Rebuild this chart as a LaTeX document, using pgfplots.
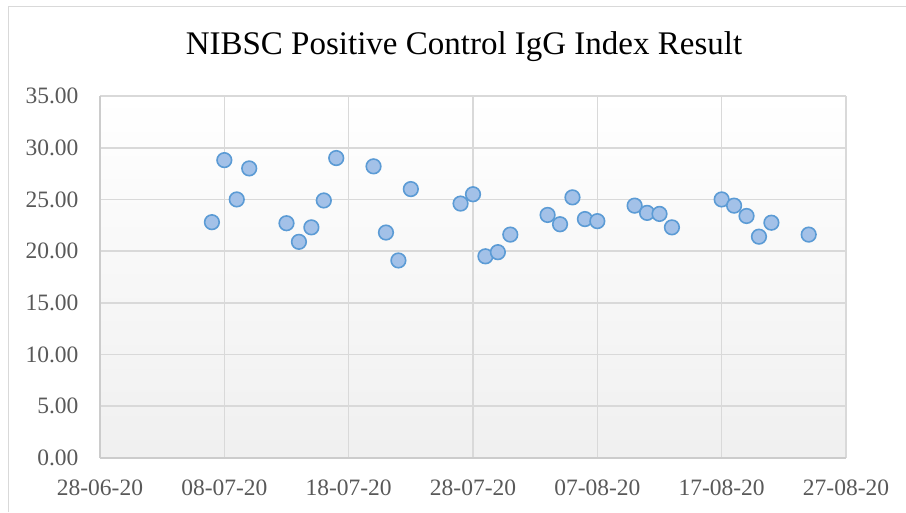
\documentclass[border=0pt]{standalone}
\usepackage{pgfplots}
\pgfplotsset{compat=1.18}
\usepackage{fontspec}
\setmainfont{Liberation Serif}
\definecolor{tickgray}{HTML}{595959}
\definecolor{gridgray}{HTML}{D9D9D9}
\definecolor{markedge}{HTML}{5B9BD5}
\definecolor{markfill}{HTML}{A3C1E8}
\begin{document}
\begin{tikzpicture}[x=1pt,y=1pt]
\useasboundingbox (0,0) rectangle (906,512);
\draw[gridgray,line width=1.5pt] (8.5,0) -- (8.5,505.5) -- (906,505.5);
\node[font=\fontsize{33}{38}\selectfont,text=black] at (464,465) {NIBSC Positive Control IgG Index Result};
\begin{axis}[
  at={(100pt,54pt)}, anchor=south west,
  scale only axis, width=746pt, height=362pt,
  xmin=0, xmax=60, ymin=0, ymax=35,
  xtick={0,10,20,30,40,50,60},
  xticklabels={28-06-20,08-07-20,18-07-20,28-07-20,07-08-20,17-08-20,27-08-20},
  ytick={0,5,10,15,20,25,30,35},
  yticklabels={0.00,5.00,10.00,15.00,20.00,25.00,30.00,35.00},
  tick style={draw=none},
  ticklabel style={text=tickgray,font=\fontsize{23.5}{27}\selectfont},
  xticklabel style={anchor=center,yshift=-30pt},
  yticklabel style={anchor=east,xshift=-18pt},
  grid=major,
  major grid style={gridgray,line width=1.6pt},
  axis line style={draw=gridgray!85!gray,line width=1.6pt},
  axis x line*=bottom, axis y line*=left,
  axis background/.style={shade,top color=white,bottom color=black!6},
  clip=false,
]
\addplot[only marks, mark=*, mark size=7.3pt,
  mark options={draw=markedge, line width=1.6pt, fill=markfill}]
coordinates {
(9,22.8) (10,28.8) (11,25.0) (12,28.0)
(15,22.7) (16,20.9) (17,22.3) (18,24.9) (19,29.0)
(22,28.2) (23,21.8) (24,19.1) (25,26.0)
(29,24.6) (30,25.5) (31,19.5) (32,19.9) (33,21.6)
(36,23.5) (37,22.6) (38,25.2) (39,23.1) (40,22.9)
(43,24.4) (44,23.7) (45,23.6) (46,22.3)
(50,25.0) (51,24.4) (52,23.4) (53,21.4) (54,22.75)
(57,21.6)
};
\end{axis}
\end{tikzpicture}
\end{document}
